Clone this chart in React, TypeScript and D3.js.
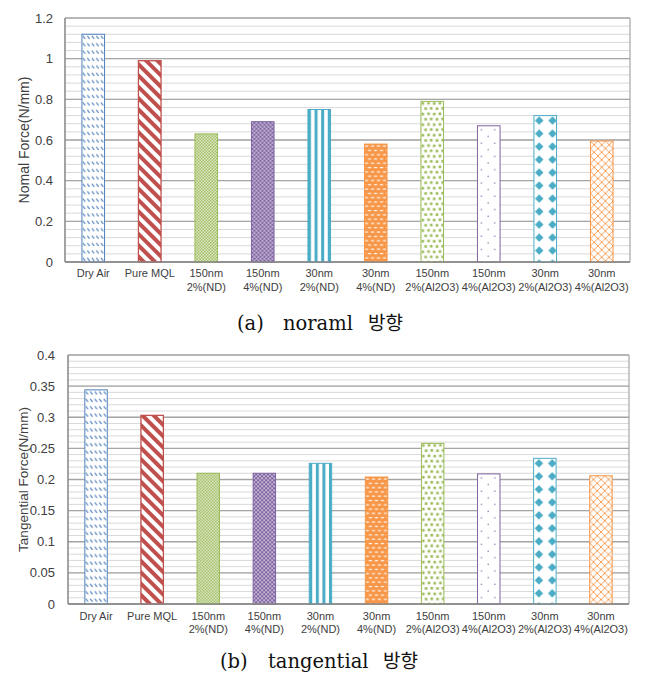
import React from 'react';
import * as d3 from 'd3';

// ---------- data ----------
const categories = [
  'Dry Air',
  'Pure MQL',
  '150nm\n2%(ND)',
  '150nm\n4%(ND)',
  '30nm\n2%(ND)',
  '30nm\n4%(ND)',
  '150nm\n2%(Al2O3)',
  '150nm\n4%(Al2O3)',
  '30nm\n2%(Al2O3)',
  '30nm\n4%(Al2O3)',
];

const normalValues = [1.12, 0.99, 0.63, 0.69, 0.75, 0.58, 0.79, 0.67, 0.72, 0.595];
const tangentialValues = [0.344, 0.303, 0.21, 0.21, 0.226, 0.204, 0.258, 0.209, 0.234, 0.206];

const normalTicks = [0, 0.2, 0.4, 0.6, 0.8, 1.0, 1.2];
const normalTickLabels = ['0', '0.2', '0.4', '0.6', '0.8', '1', '1.2'];
const tangentialTicks = [0, 0.05, 0.1, 0.15, 0.2, 0.25, 0.3, 0.35, 0.4];
const tangentialTickLabels = ['0', '0.05', '0.1', '0.15', '0.2', '0.25', '0.3', '0.35', '0.4'];

const seriesColors = ['#4f81bd', '#c0504d', '#9bbb59', '#8064a2', '#4bacc6', '#f79646', '#9bbb59', '#8064a2', '#4bacc6', '#f79646'];

// ---------- patterns ----------
function renderPattern(i: number, id: string, px: number, py: number, c: string) {
  const common = { id, patternUnits: 'userSpaceOnUse' as const };
  switch (i) {
    case 0:
      return (
        <pattern key={id} {...common} x={px} y={py} width={4.5} height={7.4}>
          <rect width={4.5} height={7.4} fill="#fff" />
          <path d="M0.8,1.6 Q1.6,2.2 1.9,3 T3.4,4.4" fill="none" stroke={c} strokeWidth={1.1} />
        </pattern>
      );
    case 1:
      return (
        <pattern key={id} {...common} x={px} y={py} width={8} height={8} patternTransform="rotate(-45)">
          <rect width={8} height={8} fill="#fff" />
          <rect width={4} height={8} fill={c} />
        </pattern>
      );
    case 2:
      return (
        <pattern key={id} {...common} x={px} y={py} width={3} height={3}>
          <rect width={3} height={3} fill="#e4ecd2" />
          <rect width={1.5} height={1.5} fill={c} />
          <rect x={1.5} y={1.5} width={1.5} height={1.5} fill={c} />
        </pattern>
      );
    case 3:
      return (
        <pattern key={id} {...common} x={px} y={py} width={4} height={4}>
          <rect width={4} height={4} fill={c} />
          <circle cx={1} cy={1} r={0.85} fill="#fff" />
          <circle cx={3} cy={3} r={0.85} fill="#fff" />
        </pattern>
      );
    case 4:
      return (
        <pattern key={id} {...common} x={px} y={py} width={6.6} height={4}>
          <rect width={6.6} height={4} fill="#fff" />
          <rect width={3} height={4} fill={c} />
        </pattern>
      );
    case 5:
      return (
        <pattern key={id} {...common} x={px} y={py} width={6} height={8.6}>
          <rect width={6} height={8.6} fill={c} />
          <rect x={0.6} y={1.4} width={3} height={1.2} fill="#fff" />
          <rect x={3.6} y={5.7} width={3} height={1.2} fill="#fff" />
          <rect x={-2.4} y={5.7} width={3} height={1.2} fill="#fff" />
        </pattern>
      );
    case 6:
      return (
        <pattern key={id} {...common} x={px} y={py} width={11.4} height={10.6}>
          <rect width={11.4} height={10.6} fill="#fff" />
          <rect x={0.6} y={0.8} width={2.6} height={2.6} fill={c} />
          <rect x={6.3} y={0.5} width={2.6} height={2.6} fill={c} />
          <rect x={3.4} y={6.0} width={2.6} height={2.6} fill={c} />
          <rect x={9.0} y={5.7} width={2.6} height={2.6} fill={c} />
          <rect x={-2.4} y={5.7} width={2.6} height={2.6} fill={c} />
        </pattern>
      );
    case 7:
      return (
        <pattern key={id} {...common} x={px} y={py} width={13.3} height={13.3}>
          <rect width={13.3} height={13.3} fill="#fff" />
          <circle cx={4} cy={4} r={0.75} fill={c} />
          <circle cx={10.65} cy={10.65} r={0.75} fill={c} />
        </pattern>
      );
    case 8:
      return (
        <pattern key={id} {...common} x={px - 1.35} y={py - 1.5} width={13.3} height={13}>
          <rect width={13.3} height={13} fill="#fff" />
          <path d="M6.65,2.2 L10.9,6.5 L6.65,10.8 L2.4,6.5 Z" fill={c} />
        </pattern>
      );
    default:
      return (
        <pattern key={id} {...common} x={px} y={py} width={7.5} height={7.5}>
          <rect width={7.5} height={7.5} fill="#fff" />
          <path d="M0,0 L7.5,7.5 M7.5,0 L0,7.5" stroke={c} strokeWidth={0.9} />
        </pattern>
      );
  }
}

// ---------- panel ----------
type Box = { left: number; right: number; top: number; bottom: number };

function Panel(props: {
  prefix: string;
  values: number[];
  ticks: number[];
  tickLabels: string[];
  minorStep: number;
  yMax: number;
  box: Box;
  yTitle: string;
  titleX: number;
  titleSize: number;
  labelY: number;
  tickGap: number;
}) {
  const { prefix, values, ticks, tickLabels, minorStep, yMax, box, yTitle, titleX, titleSize, labelY, tickGap } = props;
  const x = d3.scaleBand<string>().domain(categories).range([box.left, box.right]).paddingInner(0.6).paddingOuter(0.3);
  const y = d3.scaleLinear().domain([0, yMax]).range([box.bottom, box.top]);
  const nMinor = Math.round(yMax / minorStep);
  const minor = d3.range(0, nMinor + 1).map((k) => k * minorStep);

  return (
    <g>
      <defs>
        {categories.map((cat, i) =>
          renderPattern(i, `${prefix}-p${i}`, x(cat) as number, y(values[i]), seriesColors[i])
        )}
      </defs>
      {minor.map((v, k) => (
        <line key={`mi${k}`} x1={box.left} x2={box.right} y1={y(v)} y2={y(v)} stroke="#d9d9d9" strokeWidth={1} />
      ))}
      {ticks.map((v, k) => (
        <line key={`ma${k}`} x1={box.left} x2={box.right} y1={y(v)} y2={y(v)} stroke="#a6a6a6" strokeWidth={1.3} />
      ))}
      <line x1={box.right} x2={box.right} y1={box.top} y2={box.bottom} stroke="#a6a6a6" strokeWidth={1.2} />
      {categories.map((cat, i) => (
        <rect
          key={`b${i}`}
          x={x(cat) as number}
          y={y(values[i])}
          width={x.bandwidth()}
          height={y(0) - y(values[i])}
          fill={`url(#${prefix}-p${i})`}
          stroke={seriesColors[i]}
          strokeWidth={i === 1 ? 1.3 : 1}
        />
      ))}
      <line x1={box.left} x2={box.left} y1={box.top} y2={box.bottom} stroke="#868686" strokeWidth={1.5} />
      <line x1={box.left} x2={box.right} y1={box.bottom} y2={box.bottom} stroke="#868686" strokeWidth={1.5} />
      {ticks.map((v, k) => (
        <text
          key={`tl${k}`}
          x={box.left - tickGap}
          y={y(v)}
          dy="0.35em"
          textAnchor="end"
          fontFamily="'Liberation Sans', Arial, sans-serif"
          fontSize={13}
          fill="#404040"
        >
          {tickLabels[k]}
        </text>
      ))}
      {categories.map((cat, i) => {
        const cx = (x(cat) as number) + x.bandwidth() / 2;
        return (
          <text
            key={`cl${i}`}
            x={cx}
            y={labelY}
            textAnchor="middle"
            fontFamily="'Liberation Sans', Arial, sans-serif"
            fontSize={11}
            fill="#404040"
          >
            {cat.split('\n').map((line, j) => (
              <tspan key={j} x={cx} dy={j === 0 ? 0 : 13.5}>
                {line}
              </tspan>
            ))}
          </text>
        );
      })}
      <text
        transform={`translate(${titleX},${(box.top + box.bottom) / 2}) rotate(-90)`}
        textAnchor="middle"
        dominantBaseline="central"
        fontFamily="'Liberation Sans', Arial, sans-serif"
        fontSize={titleSize}
        fill="#404040"
      >
        {yTitle}
      </text>
    </g>
  );
}

function Caption(props: { y: number; parts: { x: number; t: string }[] }) {
  return (
    <text y={props.y} fontFamily="'DejaVu Serif', 'Noto Sans CJK KR', serif" fontSize={19.5} fill="#111">
      {props.parts.map((p, k) => (
        <tspan key={k} x={p.x} fontFamily={/[가-힣]/.test(p.t) ? "'Noto Sans CJK KR', sans-serif" : undefined} fontSize={/[가-힣]/.test(p.t) ? 19 : undefined}>
          {p.t}
        </tspan>
      ))}
    </text>
  );
}

export default function App() {
  return (
    <svg
      width={645}
      height={678}
      viewBox="0 0 645 678"
      style={{ position: 'absolute', left: 0, top: 0, background: '#fff' }}
    >
      <rect width={645} height={678} fill="#fff" />
      <Panel
        prefix="n"
        values={normalValues}
        ticks={normalTicks}
        tickLabels={normalTickLabels}
        minorStep={0.04}
        yMax={1.2}
        box={{ left: 65, right: 630, top: 18, bottom: 262 }}
        yTitle="Nomal Force(N/mm)"
        titleX={24}
        titleSize={14}
        labelY={277}
        tickGap={12}
      />
      <Caption
        y={330}
        parts={[
          { x: 237, t: '(a)' },
          { x: 283, t: 'noraml' },
          { x: 368, t: '방향' },
        ]}
      />
      <Panel
        prefix="t"
        values={tangentialValues}
        ticks={tangentialTicks}
        tickLabels={tangentialTickLabels}
        minorStep={0.01}
        yMax={0.4}
        box={{ left: 68, right: 629, top: 355, bottom: 604 }}
        yTitle="Tangential Force(N/mm)"
        titleX={23}
        titleSize={13.5}
        labelY={619.5}
        tickGap={13}
      />
      <Caption
        y={668}
        parts={[
          { x: 220, t: '(b)' },
          { x: 268, t: 'tangential' },
          { x: 383, t: '방향' },
        ]}
      />
    </svg>
  );
}
